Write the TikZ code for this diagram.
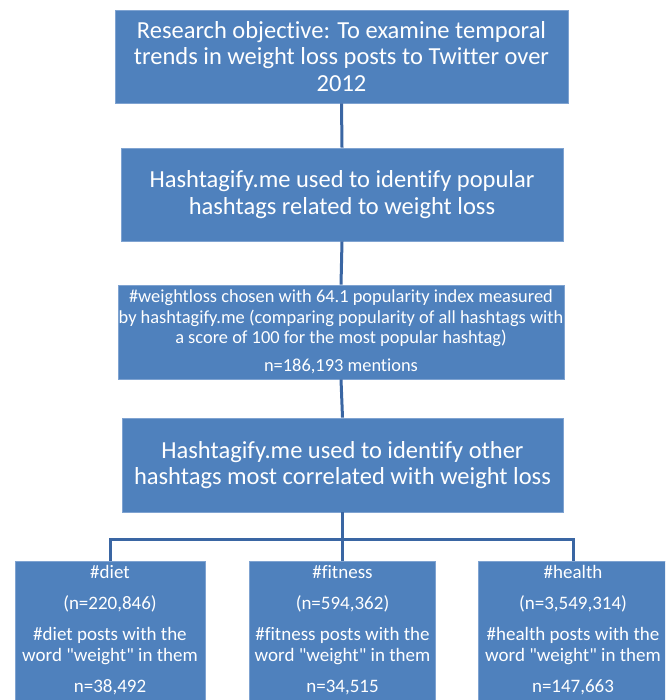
\documentclass[tikz,border=0pt]{standalone}
\usepackage{fontspec}
\setmainfont{Carlito}[Ligatures={NoCommon,TeXOff}]
\definecolor{boxblue}{HTML}{4F81BD}
\definecolor{edgeblue}{HTML}{7FA3D1}
\definecolor{linkblue}{HTML}{3A66A3}
\begin{document}
\begin{tikzpicture}[x=1pt,y=-1pt,
  box/.style={draw=edgeblue, line width=0.8pt, fill=boxblue, text=white, align=center, inner sep=0pt},
  bigtext/.style={font=\fontsize{24.5}{26.7}\selectfont},
  midtext/.style={font=\fontsize{18.4}{20.5}\selectfont},
  smalltext/.style={font=\fontsize{19}{21}\selectfont},
  link/.style={draw=linkblue, line width=3pt, line join=miter}]
\useasboundingbox (0,0) rectangle (665,700);
\clip (0,0) rectangle (665,700);
\node[box, bigtext, minimum width=453, minimum height=93] (obj) at (341.5,56.5)
  {Research objective: To examine temporal\\trends in weight loss posts to Twitter over\\2012};
\node[box, bigtext, minimum width=442, minimum height=93] (tags) at (342,194.5)
  {Hashtagify.me used to identify popular\\hashtags related to weight loss};
\node[box, midtext, minimum width=446, minimum height=94] (chosen) at (341,332)
  {\#weightloss chosen with 64.1 popularity index measured\\by hashtagify.me (comparing popularity of all hashtags with\\a score of 100 for the most popular hashtag)\\[7pt]n=186,193 mentions};
\node[box, bigtext, minimum width=441, minimum height=94] (corr) at (342.5,465)
  {Hashtagify.me used to identify other\\hashtags most correlated with weight loss};
\node[box, smalltext, minimum width=190, minimum height=139] (diet) at (110,630.5)
  {\#diet\\[10pt](n=220,846)\\[10pt]\#diet posts with the\\word "weight" in them\\[10pt]n=38,492};
\node[box, smalltext, minimum width=186, minimum height=139] (fit) at (342.5,630.5)
  {\#fitness\\[10pt](n=594,362)\\[10pt]\#fitness posts with the\\word "weight" in them\\[10pt]n=34,515};
\node[box, smalltext, minimum width=190, minimum height=139] (health) at (573,630.5)
  {\#health\\[10pt](n=3,549,314)\\[10pt]\#health posts with the\\word "weight" in them\\[10pt]n=147,663};
\coordinate (hub) at (342.5,539);
\draw[link] (obj.south) -- (tags.north);
\draw[link] (tags.south) -- (chosen.north);
\draw[link] (chosen.south) -- (corr.north);
\draw[link] (corr.south) -- (hub);
\draw[link] (diet.north) |- (hub) -| (health.north);
\draw[link] (hub) -- (fit.north);
\end{tikzpicture}
\end{document}
